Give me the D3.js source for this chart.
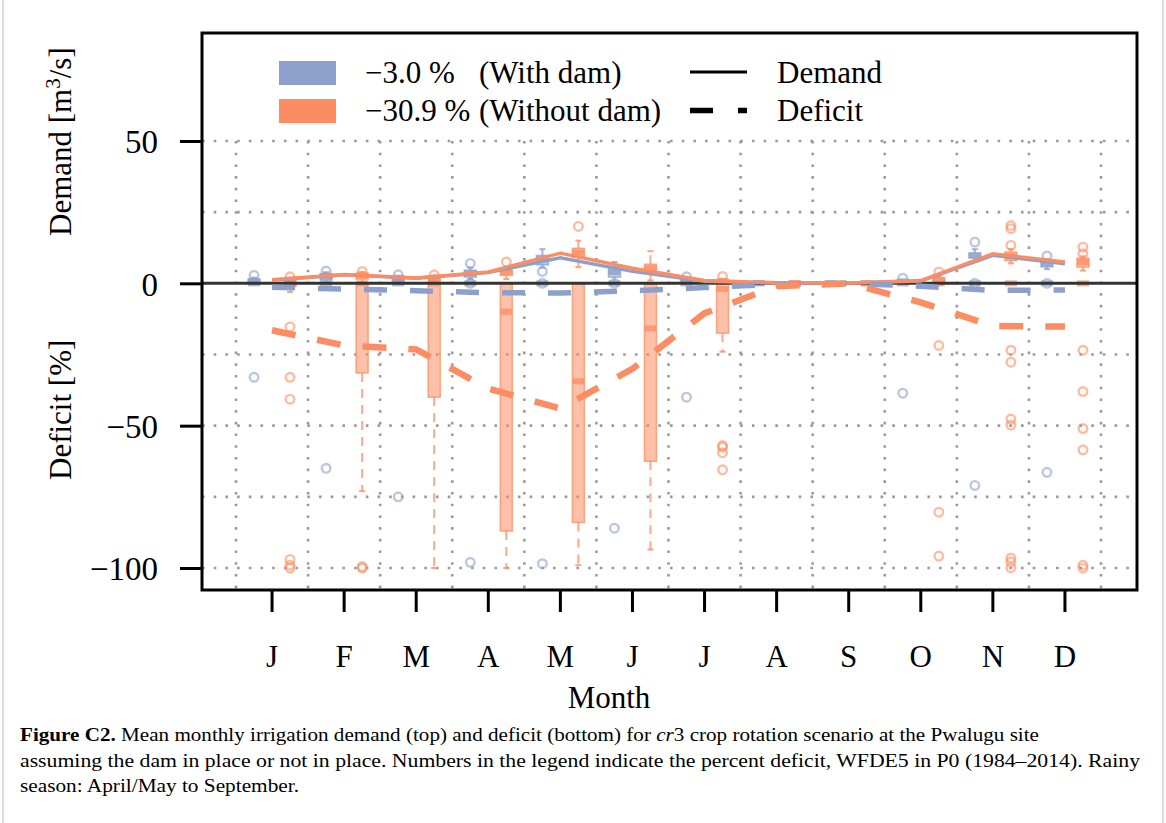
<!DOCTYPE html>
<html><head><meta charset="utf-8">
<script src="https://cdn.jsdelivr.net/npm/d3@7/dist/d3.min.js"></script>
<style>
body{margin:0;background:#fff}
svg{display:block}
text{font-family:"Liberation Serif","Times New Roman",serif;fill:#000}
</style>
</head><body>
<svg id="chart" width="1166" height="823"></svg>
<script>
// ---------- data ----------
const months = ["J","F","M","A","M","J","J","A","S","O","N","D"];
const yTicks = [-100, -50, 0, 50];
const gridY = [-100, -75, -50, -25, 25, 50];

// mean demand lines [m3/s]
const demandDam   = [1.1, 3.0, 1.8, 3.8, 9.0, 4.2, 0.7, 0.1, 0.1, 0.8, 9.8, 6.9];
const demandNoDam = [1.3, 3.1, 1.9, 4.0, 10.6, 5.3, 1.0, 0.2, 0.1, 1.0, 10.4, 7.5];
// mean deficit lines [%]
const deficitDam   = [-1.4, -2.0, -2.6, -3.3, -3.4, -2.6, -1.5, -0.3, 0, -1.0, -2.5, -2.3];
const deficitNoDam = [-16.5, -21.8, -23.2, -37, -44, -30, -10.5, -1, 0, -6.7, -15, -15.2];

// box stats: [low whisker, q1, median, q3, high whisker]
const demandBoxDam = [
  [0,0.3,0.8,1.5,2.0],[0,1.2,2.5,3.4,3.9],[0,0.8,1.8,2.4,2.7],[1.5,2.2,3.5,4.6,5.5],
  [5.5,6.5,8.5,9.8,12],[0,2.2,4.0,5.7,7.5],[0,0.3,0.6,1.3,1.8],[0,0,0.1,0.3,0.5],
  [0,0,0,0.2,0.3],[0,0.2,0.6,1.0,1.3],[7.5,8.9,9.8,10.6,12],[5,5.8,6.8,7.7,8.5]];
const demandOutDam = [[2.8],[4.3],[3.0],[7.0,0],[4.2,0],[0],[2.3],[],[],[1.8],[14.5,0],[9.6,0]];
const demandBoxNoDam = [
  [0,0.4,1.0,1.6,2.0],[0,1.5,2.8,3.5,4.0],[0,0.8,1.8,2.5,2.8],[1.5,2.8,4.0,4.6,5.5],
  [5.7,9.1,10.8,12.3,15],[1,4,5.3,6.7,11.3],[0,0.3,0.7,1.2,1.6],[0,0,0.1,0.3,0.5],
  [0,0,0,0.2,0.3],[0,0.5,1.2,2.0,2.8],[7,8,9.5,11,12],[4.5,5.7,7.5,8.8,9.5]];
const demandOutNoDam = [[2.3],[4.2],[3.0],[7.5],[20],[],[2.4],[],[],[4.0],[13.3,19.2,20.3],[10.4,12.7]];

const deficitBoxDam = [
  [0,0,0,0,0],[0,0,0,0,0],[0,0,0,0,0],[0,0,0,0,0],[0,0,0,0,0],[0,0,0,0,0],
  [0,0,0,0,0],[0,0,0,0,0],[0,0,0,0,0],[0,0,0,0,0],[0,0,0,0,0],[0,0,0,0,0]];
const deficitOutDam = [[-33],[-65],[-75],[-98],[-98.5],[-86],[-40],[],[],[-38.6],[-71],[-66.4]];
const deficitBoxNoDam = [
  [-3,-1,0,0,0],[-73,-31.5,0,0,0],[-100,-40,0,0,0],[-100,-87,-10,0,0],
  [-99,-84,-34.4,0,0],[-93.5,-62.5,-15.8,0,0],[-24,-17.5,-2,0,0],[0,0,0,0,0],
  [0,0,0,0,0],[0,0,0,0,0],[0,0,0,0,0],[0,0,0,0,0]];
const deficitOutNoDam = [[-15.3,-33,-40.7,-97,-99,-100],[-99.5,-100],[],[],[],[],
  [-57,-57.5,-59.5,-65.5],[],[],[-21.8,-80.4,-95.8],
  [-23.5,-27.7,-47.7,-49.8,-96.5,-97.8,-99.9],[-23.5,-38,-51,-58.5,-99,-100]];

const legendLabels = [["\u22123.0 %","(With dam)"],["\u221230.9 %","(Without dam)"]];
const captionLines = [
  ["Figure C2.", " Mean monthly irrigation demand (top) and deficit (bottom) for ", "cr", "3 crop rotation scenario at the Pwalugu site"],
  "assuming the dam in place or not in place. Numbers in the legend indicate the percent deficit, WFDE5 in P0 (1984\u20132014). Rainy",
  "season: April/May to September."
];

// ---------- layout ----------
const BLUE = "#8DA0CB", ORANGE = "#FC8D62";
const plot = {left:202, right:1137, top:33, bottom:590};
const svg = d3.select("#chart");

const x = d3.scaleBand().domain(d3.range(12)).range([236, 1101]).padding(0);
const xc = i => x(i) + x.bandwidth()/2;
const y = d3.scaleLinear().domain([-100, 50]).range([568, 141]);
const OFF = 18;

// light page frame
svg.append("line").attr("x1",3).attr("x2",3).attr("y1",0).attr("y2",823).attr("stroke","#d0d0d0").attr("stroke-width",1.5);
svg.append("line").attr("x1",1163).attr("x2",1163).attr("y1",0).attr("y2",823).attr("stroke","#d0d0d0").attr("stroke-width",1.5);

// grid
const grid = svg.append("g").attr("stroke","#9a9a9a").attr("stroke-width",2.6).attr("stroke-dasharray","2.6,9.1");
d3.range(13).forEach(i => {
  const gx = i < 12 ? x(i) : x(11) + x.bandwidth();
  grid.append("line").attr("x1",gx).attr("x2",gx).attr("y1",y(50)).attr("y2",plot.bottom);
});
gridY.forEach(v => grid.append("line").attr("x1",plot.left).attr("x2",plot.right).attr("y1",y(v)).attr("y2",y(v)));

// boxplots
function drawBox(cx, s, outs, color) {
  const g = svg.append("g");
  const w = 12;
  const [lo,q1,med,q3,hi] = s;
  const wh = (a,b) => {
    g.append("line").attr("x1",cx).attr("x2",cx).attr("y1",y(a)).attr("y2",y(b))
      .attr("stroke",color).attr("stroke-opacity",0.7).attr("stroke-width",2.2).attr("stroke-dasharray","9,7");
    g.append("line").attr("x1",cx-3).attr("x2",cx+3).attr("y1",y(b)).attr("y2",y(b))
      .attr("stroke",color).attr("stroke-opacity",0.8).attr("stroke-width",2);
  };
  if (lo < q1) wh(q1, lo);
  if (hi > q3) wh(q3, hi);
  g.append("rect").attr("x",cx-w/2).attr("width",w).attr("y",y(q3)).attr("height",Math.max(0,y(q1)-y(q3)))
    .attr("fill",color).attr("fill-opacity",0.55).attr("stroke",color).attr("stroke-opacity",0.75).attr("stroke-width",1.5);
  g.append("line").attr("x1",cx-w/2).attr("x2",cx+w/2).attr("y1",y(med)).attr("y2",y(med))
    .attr("stroke",color).attr("stroke-opacity",0.75).attr("stroke-width",6);
  outs.forEach(o => g.append("circle").attr("cx",cx).attr("cy",y(o)).attr("r",4.3)
    .attr("fill","none").attr("stroke",color).attr("stroke-opacity",0.6).attr("stroke-width",2.4));
}
months.forEach((m,i) => {
  drawBox(xc(i)-OFF, demandBoxDam[i], demandOutDam[i], BLUE);
  drawBox(xc(i)+OFF, demandBoxNoDam[i], demandOutNoDam[i], ORANGE);
  drawBox(xc(i)-OFF, deficitBoxDam[i], deficitOutDam[i], BLUE);
  drawBox(xc(i)+OFF, deficitBoxNoDam[i], deficitOutNoDam[i], ORANGE);
});

// zero line
svg.append("line").attr("x1",plot.left).attr("x2",plot.right).attr("y1",y(0)).attr("y2",y(0))
  .attr("stroke","#333").attr("stroke-width",3);

// mean lines
const line = d3.line().x((d,i) => xc(i)).y(d => y(d));
svg.append("path").datum(demandDam).attr("d",line).attr("fill","none").attr("stroke",BLUE).attr("stroke-width",3.4);
svg.append("path").datum(demandNoDam).attr("d",line).attr("fill","none").attr("stroke",ORANGE).attr("stroke-width",3.4);
svg.append("path").datum(deficitDam).attr("d",line).attr("fill","none").attr("stroke",BLUE).attr("stroke-width",5.5).attr("stroke-dasharray","23,23");
svg.append("path").datum(deficitNoDam).attr("d",line).attr("fill","none").attr("stroke",ORANGE).attr("stroke-width",6.5).attr("stroke-dasharray","24,22");

// frame
svg.append("rect").attr("x",plot.left).attr("y",plot.top).attr("width",plot.right-plot.left).attr("height",plot.bottom-plot.top)
  .attr("fill","none").attr("stroke","#000").attr("stroke-width",3);

// axes
const fmt = d => d < 0 ? "\u2212" + Math.abs(d) : String(d);
const yAxis = svg.append("g").attr("transform",`translate(${plot.left},0)`)
  .call(d3.axisLeft(y).tickValues(yTicks).tickFormat(fmt).tickSize(22).tickPadding(22));
yAxis.select(".domain").remove();
yAxis.selectAll(".tick line").attr("stroke","#000").attr("stroke-width",3);
yAxis.selectAll(".tick text").attr("font-family","Liberation Serif").attr("font-size",33).attr("dy","0.36em");

const xAxis = svg.append("g").attr("transform",`translate(0,${plot.bottom})`)
  .call(d3.axisBottom(x).tickFormat(i => months[i]).tickSize(22).tickPadding(33));
xAxis.select(".domain").remove();
xAxis.selectAll(".tick line").attr("stroke","#000").attr("stroke-width",3);
xAxis.selectAll(".tick text").attr("font-family","Liberation Serif").attr("font-size",31);

// axis titles
svg.append("text").attr("x",609).attr("y",708).attr("text-anchor","middle").attr("font-size",31).text("Month");
const dl = svg.append("text").attr("transform","translate(71,236) rotate(-90)").attr("font-size",31);
dl.append("tspan").text("Demand [m");
dl.append("tspan").attr("dy",-11).attr("font-size",21).text("3");
dl.append("tspan").attr("dy",11).text("/s]");
svg.append("text").attr("transform","translate(71,480) rotate(-90)").attr("font-size",31).text("Deficit [%]");

// legend
[BLUE, ORANGE].forEach((c,i) => {
  svg.append("rect").attr("x",279).attr("y",61+i*38).attr("width",57).attr("height",24).attr("fill",c);
  svg.append("text").attr("x",365).attr("y",83+i*38).attr("font-size",31).text(legendLabels[i][0]);
  svg.append("text").attr("x",479).attr("y",83+i*38).attr("font-size",31).text(legendLabels[i][1]);
});
svg.append("line").attr("x1",690).attr("x2",747).attr("y1",72).attr("y2",72).attr("stroke","#000").attr("stroke-width",2.8);
svg.append("line").attr("x1",690).attr("x2",747).attr("y1",110.5).attr("y2",110.5).attr("stroke","#000").attr("stroke-width",5.5).attr("stroke-dasharray","23,25");
svg.append("text").attr("x",777).attr("y",83).attr("font-size",31).text("Demand");
svg.append("text").attr("x",777).attr("y",121).attr("font-size",31).text("Deficit");

// caption
const cap = svg.append("g").attr("font-size",18.5);
const c1 = cap.append("text").attr("x",20).attr("y",741).attr("textLength",1019).attr("lengthAdjust","spacingAndGlyphs");
c1.append("tspan").attr("font-weight","bold").text(captionLines[0][0]);
c1.append("tspan").text(captionLines[0][1]);
c1.append("tspan").attr("font-style","italic").text(captionLines[0][2]);
c1.append("tspan").text(captionLines[0][3]);
cap.append("text").attr("x",20).attr("y",767).attr("textLength",1120).attr("lengthAdjust","spacingAndGlyphs").text(captionLines[1]);
cap.append("text").attr("x",20).attr("y",792).attr("textLength",279).attr("lengthAdjust","spacingAndGlyphs").text(captionLines[2]);
</script>
</body></html>
